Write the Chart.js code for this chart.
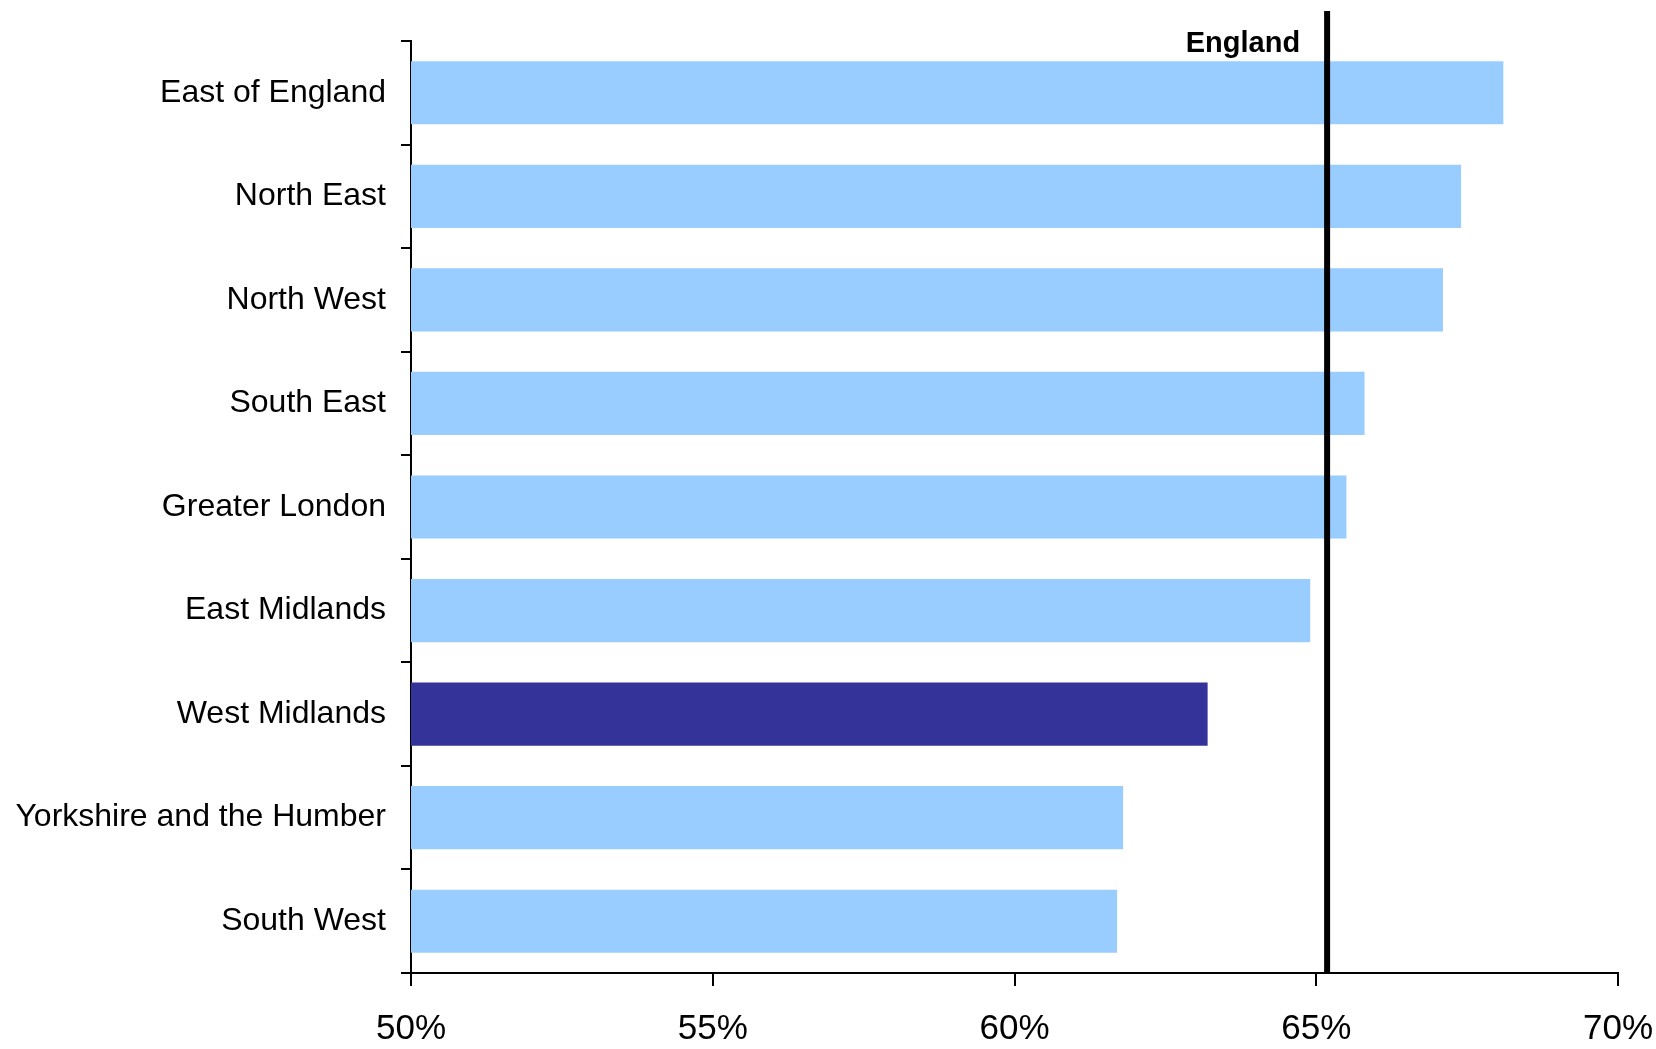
<!DOCTYPE html>
<html>
<head>
<meta charset="utf-8">
<script src="https://cdn.jsdelivr.net/npm/chart.js@4"></script>
<style>
  html, body { margin: 0; padding: 0; background: #fff; }
  #wrap { width: 1656px; height: 1049px; }
</style>
</head>
<body>
<div id="wrap"><canvas id="myChart" width="1656" height="1049"></canvas></div>
<script>
const regions = [
  "East of England", "North East", "North West", "South East", "Greater London",
  "East Midlands", "West Midlands", "Yorkshire and the Humber", "South West"
];
const rates = [68.1, 67.4, 67.1, 65.8, 65.5, 64.9, 63.2, 61.8, 61.7];
const highlight = "West Midlands";
const englandLabel = "England";
const englandRate = 65.18;
const xTicks = [50, 55, 60, 65, 70];

// Vertical England reference line with its label
const englandLine = {
  id: "englandLine",
  afterDatasetsDraw(chart) {
    const ctx = chart.ctx;
    const x = chart.scales.x.getPixelForValue(englandRate);
    ctx.save();
    ctx.strokeStyle = "#000";
    ctx.lineWidth = 6;
    ctx.beginPath();
    ctx.moveTo(x, 11);
    ctx.lineTo(x, chart.chartArea.bottom);
    ctx.stroke();
    ctx.fillStyle = "#000";
    ctx.font = "bold 29px 'Liberation Sans', Arial, sans-serif";
    ctx.textAlign = "right";
    ctx.textBaseline = "alphabetic";
    ctx.fillText(englandLabel, x - 27, 52);
    ctx.restore();
  }
};

new Chart(document.getElementById("myChart").getContext("2d"), {
  type: "bar",
  data: {
    labels: regions,
    datasets: [{
      data: rates,
      backgroundColor: regions.map(r => r === highlight ? "#333399" : "#99CCFF"),
      categoryPercentage: 1,
      barPercentage: 0.61
    }]
  },
  options: {
    indexAxis: "y",
    responsive: false,
    animation: false,
    layout: { padding: { top: 41, right: 38, left: 0, bottom: 0 } },
    plugins: { legend: { display: false }, tooltip: { enabled: false } },
    scales: {
      x: {
        min: 50,
        max: 70,
        afterBuildTicks(scale) { scale.ticks = xTicks.map(v => ({ value: v })); },
        afterFit(scale) {
          scale.height = 76;
          scale.paddingLeft = 0;
          scale.paddingRight = 0;
        },
        border: { color: "#000", width: 2 },
        grid: { drawOnChartArea: false, color: "#000", lineWidth: 2, tickLength: 13 },
        ticks: {
          color: "#000",
          padding: 22,
          font: { family: "'Liberation Sans Narrow', 'Liberation Sans', sans-serif", size: 35 },
          callback: v => v + "%"
        }
      },
      y: {
        afterFit(scale) { scale.width = 411; },
        border: { color: "#000", width: 2 },
        grid: { drawOnChartArea: false, offset: true, color: "#000", lineWidth: 2, tickLength: 10 },
        ticks: {
          color: "#000",
          padding: 15,
          font: { family: "'Liberation Sans', Arial, sans-serif", size: 32 }
        }
      }
    }
  },
  plugins: [englandLine]
});
</script>
</body>
</html>
